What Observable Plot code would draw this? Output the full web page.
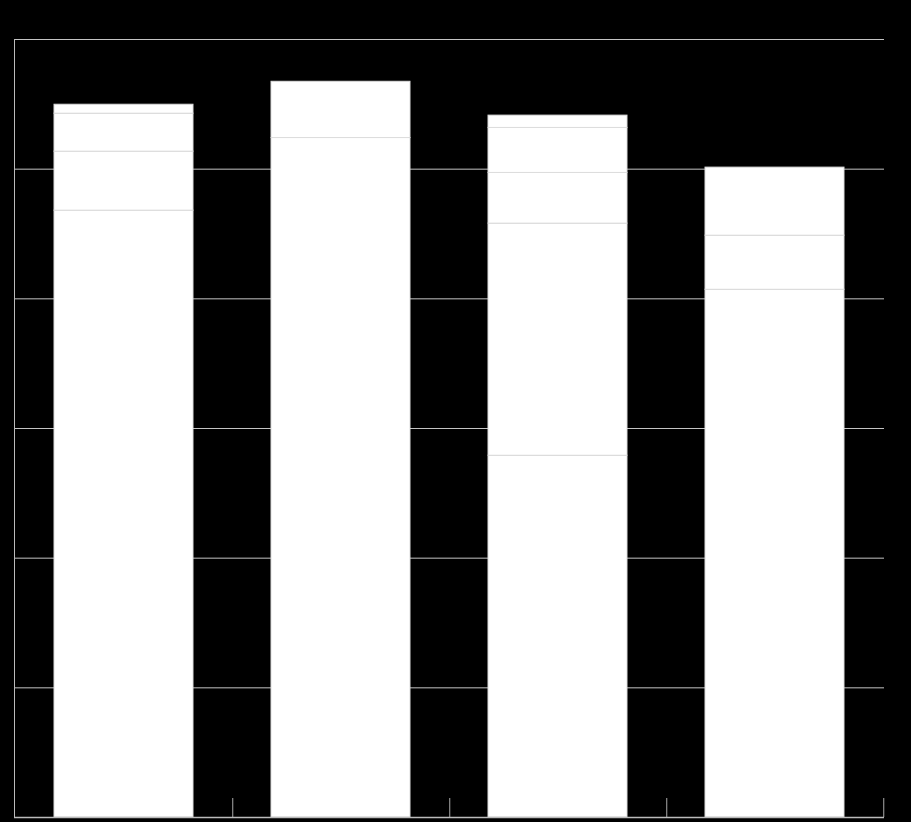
<!DOCTYPE html>
<html>
<head>
<meta charset="utf-8">
<script src="https://cdn.jsdelivr.net/npm/d3@7"></script>
<script src="https://cdn.jsdelivr.net/npm/@observablehq/plot@0.6"></script>
<style>
  html, body { margin: 0; padding: 0; background: #000; }
  #chart svg { display: block; }
</style>
</head>
<body>
<div id="chart"></div>
<script>
// Data
const categories = ["A", "B", "C", "D"];
const series = ["s1", "s2", "s3", "s4", "s5"];
const valuesA = [46.8, 4.55, 2.93, 0.69, 0];
const valuesB = [52.4, 4.34, 0, 0, 0];
const valuesC = [27.9, 17.9, 3.91, 3.47, 0.95];
const valuesD = [40.7, 4.17, 5.25, 0, 0];
const yTicks = [0, 10, 20, 30, 40, 50, 60];

const allValues = [valuesA, valuesB, valuesC, valuesD];
const rows = [];
categories.forEach((c, i) => {
  series.forEach((s, j) => {
    const v = allValues[i][j];
    if (v > 0) rows.push({category: c, series: s, value: v});
  });
});

const width = 911, height = 822;
const marginLeft = 14, marginRight = 27, marginTop = 39, marginBottom = 5;
const plotWidth = width - marginLeft - marginRight;
const plotHeight = height - marginTop - marginBottom;
const step = plotWidth / categories.length;

const chart = Plot.plot({
  width, height,
  marginLeft, marginRight, marginTop, marginBottom,
  style: {background: "#000"},
  x: {type: "band", domain: categories, paddingInner: 0.36, paddingOuter: 0.18, axis: null},
  y: {domain: [0, 60], axis: null},
  marks: [
    Plot.ruleY(yTicks, {stroke: "#c4c4c4", strokeWidth: 1}),
    Plot.barY(rows, Plot.stackY({
      x: "category", y: "value", z: "series", order: series,
      fill: "#fff", stroke: "#dcdcdc", strokeWidth: 1
    })),
    Plot.ruleX(categories, {x: d => d, dx: step / 2, insetTop: plotHeight - 19, stroke: "#aaa", strokeWidth: 1}),
    Plot.frame({anchor: "left", stroke: "#bbb", strokeWidth: 1}),
    Plot.ruleY([0], {stroke: "#bbb", strokeWidth: 1.5})
  ]
});
document.getElementById("chart").appendChild(chart);
</script>
</body>
</html>
